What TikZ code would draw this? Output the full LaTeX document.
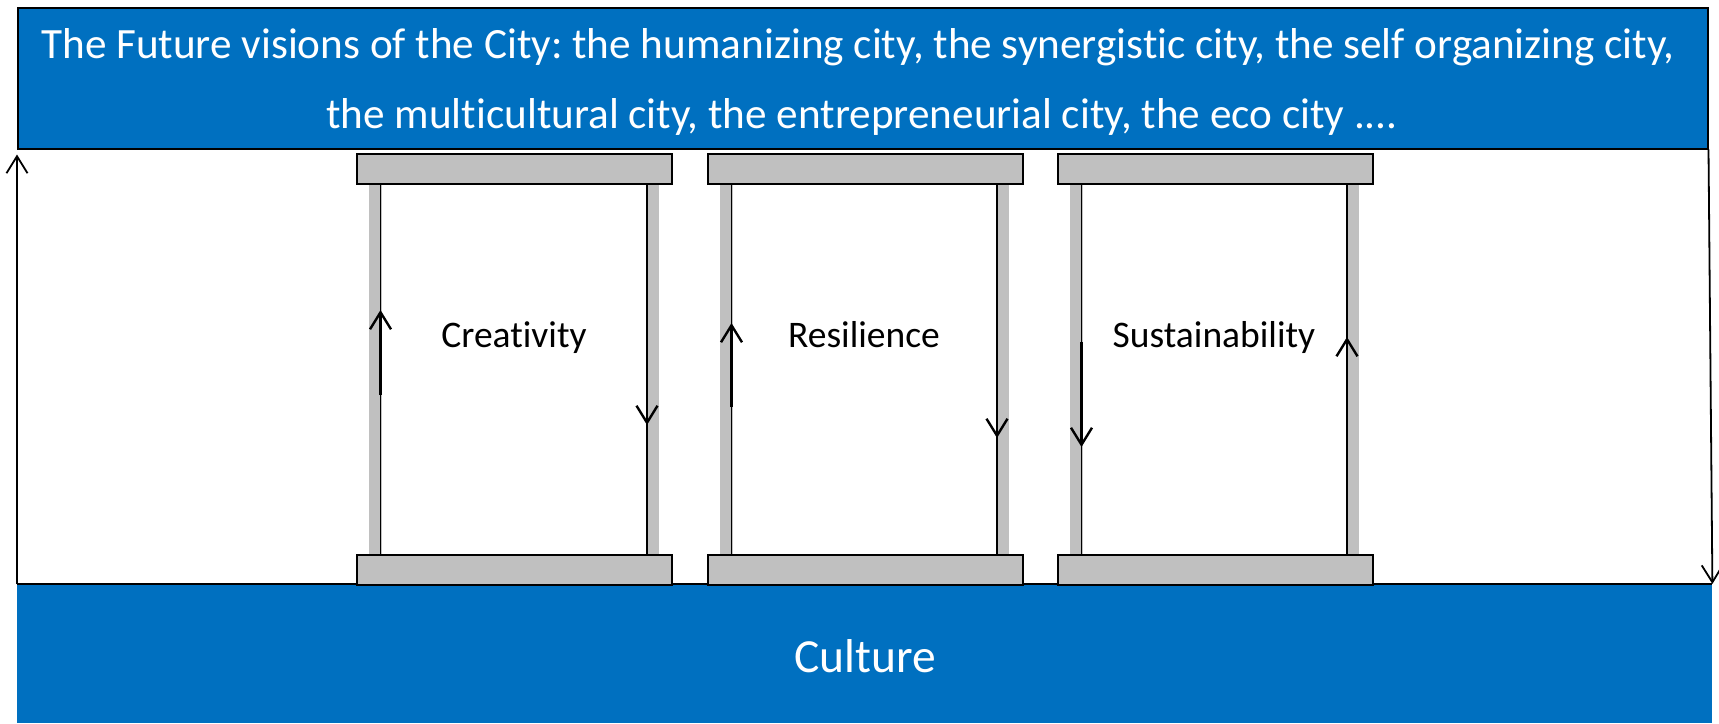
\documentclass[tikz,border=0pt]{standalone}
\usepackage{fontspec}
\setmainfont{Carlito}[Ligatures={NoCommon}]
\usetikzlibrary{arrows.meta}
\definecolor{ublue}{HTML}{0070C0}
\definecolor{pgray}{HTML}{C0C0C0}
\frenchspacing
\begin{document}
\begin{tikzpicture}[x=1pt,y=-1pt,
  bluebox/.style={fill=ublue, draw=black, line width=1.5pt, inner sep=0pt, rectangle},
  basebox/.style={fill=ublue, inner sep=0pt, rectangle},
  titletext/.style={text=white, inner sep=0pt, font=\fontsize{43.2}{50}\selectfont},
  culturetext/.style={text=white, inner sep=0pt, font=\fontsize{47.5}{56}\selectfont},
  lbl/.style={text=black, inner sep=0pt, font=\fontsize{37.5}{44}\selectfont},
  capbox/.style={fill=pgray, draw=black, line width=1.5pt, rectangle, inner sep=0pt, minimum width=315pt, minimum height=30pt, anchor=north west},
  colline/.style={draw=black, line width=1.5pt},
  arr/.style={line width=2.4pt, -{Straight Barb[length=17pt,width=21pt]}},
  outarr/.style={line width=1.8pt, -{Straight Barb[length=17pt,width=21pt]}}
]
\useasboundingbox (0,0) rectangle (1719,723);
% top box
\node[bluebox, minimum width=1690pt, minimum height=141pt, anchor=north west] (top) at (17,7) {};
\node[titletext, anchor=base] (t1) at (858,58) {The Future visions of the City: the humanizing city, the synergistic city, the self organizing city,};
\node[titletext, anchor=base] (t2) at (862,128) {the multicultural city, the entrepreneurial city, the eco city ....};
% bottom box
\node[basebox, minimum width=1695pt, minimum height=139pt, anchor=north west] (base) at (17,584) {};
\draw[line width=2pt] (base.north west) -- (base.north east);
\node[culturetext, anchor=base] (cult) at (865,672) {Culture};
% pillars
\foreach \n/\L/\R in {cre/356/671, res/707/1021, sus/1057/1371}{
  \fill[pgray] ({\L+12.5},183) rectangle ({\L+25.5},554);
  \fill[pgray] ({\R-25},183) rectangle ({\R-12},554);
  \draw[colline] ({\L+24.5},183) -- ({\L+24.5},554);
  \draw[colline] ({\R-24},183) -- ({\R-24},554);
  \node[capbox] (top\n) at (\L,153) {};
  \node[capbox] (bot\n) at (\L,554) {};
}
% labels
\node[lbl, anchor=base] (lcre) at (514,347) {Creativity};
\node[lbl, anchor=base] (lres) at (864,347) {Resilience};
\node[lbl, anchor=base] (lsus) at (1214,347) {Sustainability};
% pillar arrows
\coordinate (a1s) at (380.5,395); \coordinate (a1e) at (380.5,310);
\coordinate (a2s) at (647,322);   \coordinate (a2e) at (647,425);
\coordinate (b1s) at (731.5,407); \coordinate (b1e) at (731.5,323);
\coordinate (b2s) at (997,335);   \coordinate (b2e) at (997,438);
\coordinate (c1s) at (1081.5,342);\coordinate (c1e) at (1081.5,447);
\coordinate (c2s) at (1347,419);  \coordinate (c2e) at (1347,337);
\draw[arr] (a1s) -- (a1e);
\draw[arr] (a2s) -- (a2e);
\draw[arr] (b1s) -- (b1e);
\draw[arr] (b2s) -- (b2e);
\draw[arr] (c1s) -- (c1e);
\draw[arr] (c2s) -- (c2e);
% outer arrows
\draw[outarr] (base.north west) -- ([yshift=-5pt]top.south west);
\draw[outarr] (top.south east) -- (base.north east);
\end{tikzpicture}
\end{document}
